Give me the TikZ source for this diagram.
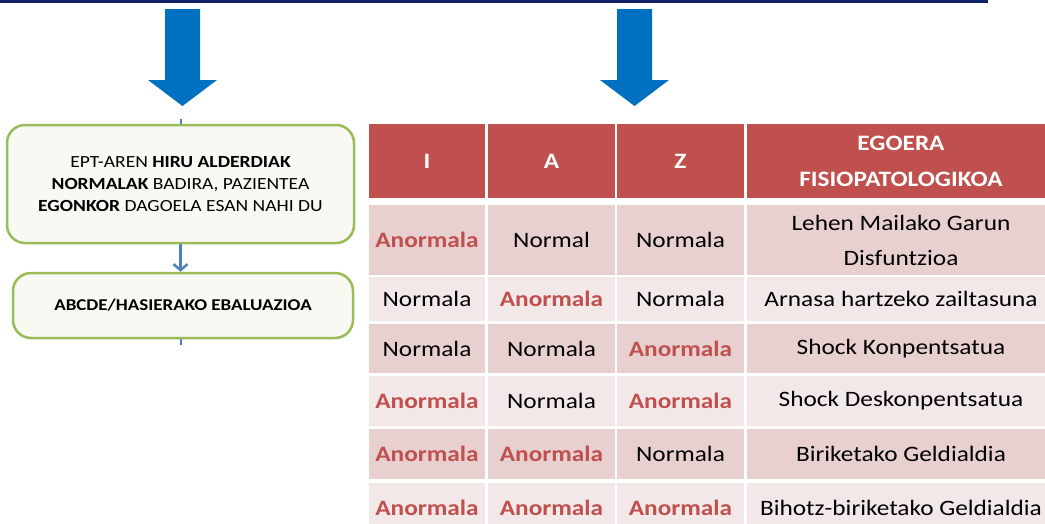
\documentclass[tikz,border=0pt]{standalone}
\usepackage{fontspec}
\setmainfont{Carlito}[FakeStretch=1.15]
\usetikzlibrary{positioning,arrows.meta}
\definecolor{navyline}{RGB}{16,35,102}
\definecolor{bigblue}{RGB}{0,112,192}
\definecolor{smallblue}{RGB}{79,129,189}
\definecolor{boxgreen}{RGB}{155,187,89}
\definecolor{boxfill}{RGB}{247,249,242}
\definecolor{headred}{RGB}{192,80,77}
\definecolor{rowdark}{RGB}{232,207,208}
\definecolor{rowlight}{RGB}{243,232,232}
\definecolor{badred}{RGB}{192,80,77}

\begin{document}
\begin{tikzpicture}[x=1pt,y=-1pt,
  flowbox/.style={draw=boxgreen,line width=2.5pt,fill=boxfill,rounded corners=18pt,
    align=center,inner sep=0pt,font=\fontsize{17}{22}\selectfont},
  cell/.style={inner sep=0pt,align=center,font=\fontsize{22}{35}\selectfont},
  headcell/.style={cell,fill=headred,text=white,font=\fontsize{22}{36}\selectfont\bfseries},
  dark/.style={cell,fill=rowdark},
  light/.style={cell,fill=rowlight},
  bad/.style={text=badred,font=\fontsize{22}{35}\selectfont\bfseries},
  cA/.style={minimum width=116pt},
  cB/.style={minimum width=127pt},
  cC/.style={minimum width=127pt},
  cD/.style={minimum width=308pt}]
\useasboundingbox (0,0) rectangle (1045,523);
% top rule and big arrows
\draw [navyline,line width=3pt] (0,1.5) -- (988,1.5);
\fill [bigblue] (165,9) -- (200,9) -- (200,80) -- (217,80) -- (182.5,106) -- (148,80) -- (165,80) -- cycle;
\fill [bigblue] (617,9) -- (652,9) -- (652,80) -- (669,80) -- (634.5,106) -- (600,80) -- (617,80) -- cycle;
% left flow
\node [flowbox,minimum width=347pt,minimum height=118pt] (box1) at (180.5,184)
  {EPT-AREN \textbf{HIRU ALDERDIAK}\\\textbf{NORMALAK} BADIRA, PAZIENTEA\\\textbf{EGONKOR} DAGOELA ESAN NAHI DU};
\node [flowbox,minimum width=340pt,minimum height=65pt,font=\fontsize{16.5}{22}\selectfont] (box2) at (183,305.5)
  {\textbf{ABCDE/HASIERAKO EBALUAZIOA}};
\coordinate (stubtop) at (180.5,119);
\coordinate (stubbot) at (180.5,345);
\draw [smallblue,line width=2pt] (stubtop) -- (box1.north);
\draw [smallblue,line width=2.5pt,-{Straight Barb[length=6pt,width=14pt]}] (box1.south) -- (box1.south |- box2.north);
\draw [smallblue,line width=2pt] (box2.south -| stubbot) -- (stubbot);
% table header
\node [headcell,cA,minimum height=74pt] (hI) at (427,161) {I};
\node [headcell,cB,minimum height=74pt] (hA) at (551.5,161) {A};
\node [headcell,cC,minimum height=74pt] (hZ) at (680.5,161) {Z};
\node [headcell,cD,minimum height=74pt] (hE) at (901,161) {EGOERA\\FISIOPATOLOGIKOA};
% row 1
\node [dark,cA,minimum height=70pt,bad] (r1I) at (427,240) {Anormala};
\node [dark,cB,minimum height=70pt] (r1A) at (551.5,240) {Normal};
\node [dark,cC,minimum height=70pt] (r1Z) at (680.5,240) {Normala};
\node [dark,cD,minimum height=70pt] (r1E) at (901,240) {Lehen Mailako Garun\\Disfuntzioa};
% row 2
\node [light,cA,minimum height=44pt] (r2I) at (427,299) {Normala};
\node [light,cB,minimum height=44pt,bad] (r2A) at (551.5,299) {Anormala};
\node [light,cC,minimum height=44pt] (r2Z) at (680.5,299) {Normala};
\node [light,cD,minimum height=44pt] (r2E) at (901,299) {Arnasa hartzeko zailtasuna};
% row 3
\node [dark,cA,minimum height=49pt] (r3I) at (427,348.5) {Normala};
\node [dark,cB,minimum height=49pt] (r3A) at (551.5,348.5) {Normala};
\node [dark,cC,minimum height=49pt,bad] (r3Z) at (680.5,348.5) {Anormala};
\node [dark,cD,minimum height=49pt] (r3E) at (901,348.5) {Shock Konpentsatua};
% row 4
\node [light,cA,minimum height=50pt,bad] (r4I) at (427,401) {Anormala};
\node [light,cB,minimum height=50pt] (r4A) at (551.5,401) {Normala};
\node [light,cC,minimum height=50pt,bad] (r4Z) at (680.5,401) {Anormala};
\node [light,cD,minimum height=50pt] (r4E) at (901,401) {Shock Deskonpentsatua};
% row 5
\node [dark,cA,minimum height=50pt,bad] (r5I) at (427,454) {Anormala};
\node [dark,cB,minimum height=50pt,bad] (r5A) at (551.5,454) {Anormala};
\node [dark,cC,minimum height=50pt] (r5Z) at (680.5,454) {Normala};
\node [dark,cD,minimum height=50pt] (r5E) at (901,454) {Biriketako Geldialdia};
% row 6
\node [light,cA,minimum height=50pt,bad] (r6I) at (427,508) {Anormala};
\node [light,cB,minimum height=50pt,bad] (r6A) at (551.5,508) {Anormala};
\node [light,cC,minimum height=50pt,bad] (r6Z) at (680.5,508) {Anormala};
\node [light,cD,minimum height=50pt] (r6E) at (901,508) {Bihotz-biriketako Geldialdia};
\end{tikzpicture}
\end{document}
